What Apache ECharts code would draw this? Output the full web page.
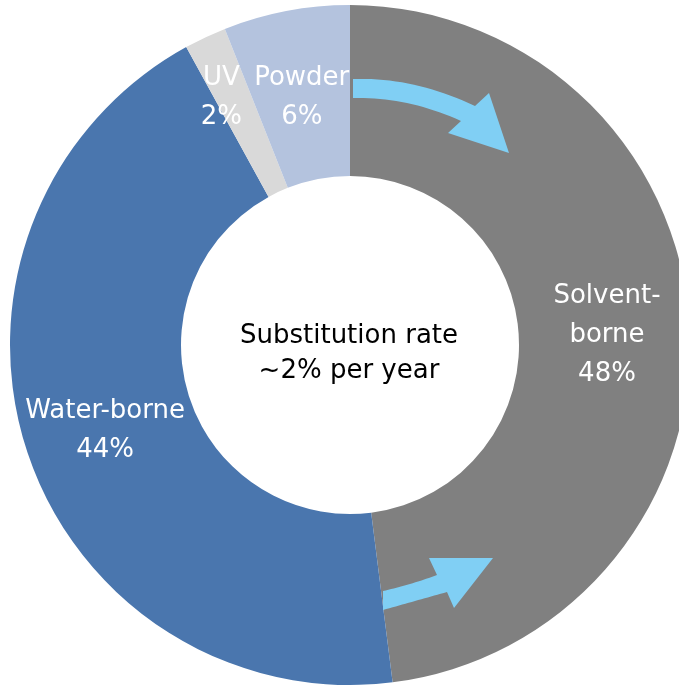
<!DOCTYPE html>
<html>
<head>
<meta charset="utf-8">
<script src="https://cdn.jsdelivr.net/npm/echarts@6/dist/echarts.min.js"></script>
<style>
html,body{margin:0;padding:0;background:#fff;}
#chart{width:679px;height:686px;}
</style>
</head>
<body>
<div id="chart"></div>
<script>
const categories = ['Solvent-borne', 'Water-borne', 'UV', 'Powder'];
const labelTexts = ['Solvent-\nborne', 'Water-borne', 'UV', 'Powder'];
const shares = [48, 44, 2, 6];
const colors = ['#808080', '#4a76ae', '#d9d9d9', '#b4c3de'];
const centerText = 'Substitution rate\n~2% per year';

const chart = echarts.init(document.getElementById('chart'));
const FONT = '"DejaVu Sans", sans-serif';
const arrowColor = '#80cff4';

function quad(p0, c, p1, n) {
  const pts = [];
  for (let i = 0; i <= n; i++) {
    const t = i / n, u = 1 - t;
    pts.push([u*u*p0[0] + 2*u*t*c[0] + t*t*p1[0], u*u*p0[1] + 2*u*t*c[1] + t*t*p1[1]]);
  }
  return pts;
}
function arrowShape(a) {
  return quad(a.top[0], a.top[1], a.top[2], 20)
    .concat([a.wing1, a.tip, a.wing2])
    .concat(quad(a.bottom[0], a.bottom[1], a.bottom[2], 20));
}
const arrowTop = arrowShape({
  top: [[353, 79], [414, 77], [475, 106]],
  wing1: [489, 93], tip: [509, 153], wing2: [448, 133],
  bottom: [[461, 121], [407, 96.5], [353, 98]]
});
const arrowBottom = arrowShape({
  top: [[383, 591], [410, 585], [437, 575]],
  wing1: [429, 558], tip: [493, 558], wing2: [454, 608],
  bottom: [[447, 592], [415, 601], [383, 610]]
});

const data = categories.map((c, i) => ({
  name: c,
  value: shares[i],
  itemStyle: { color: colors[i] },
  label: { formatter: labelTexts[i] + '\n' + shares[i] + '%' }
}));

chart.setOption({
  animation: false,
  series: [{
    type: 'pie',
    center: [350, 345],
    radius: [169, 340],
    startAngle: 90,
    clockwise: true,
    data: data,
    label: {
      show: true,
      position: 'inside',
      color: '#ffffff',
      fontFamily: FONT,
      fontSize: 26,
      lineHeight: 39,
      align: 'center'
    },
    labelLayout: function (p) {
      if (p.dataIndex === 2) return { dx: -19, dy: -14 };
      return { dy: 6 };
    },
    labelLine: { show: false },
    emphasis: { disabled: true },
    itemStyle: { borderWidth: 0 }
  }],
  graphic: [
    {
      type: 'text',
      z: 100,
      style: {
        text: centerText,
        x: 349, y: 354,
        fill: '#000',
        fontFamily: FONT,
        fontSize: 26,
        lineHeight: 35,
        align: 'center',
        verticalAlign: 'middle'
      }
    },
    {
      type: 'polygon',
      z: 100,
      shape: { points: arrowTop },
      style: { fill: arrowColor }
    },
    {
      type: 'polygon',
      z: 100,
      shape: { points: arrowBottom },
      style: { fill: arrowColor }
    }
  ]
});
</script>
</body>
</html>
